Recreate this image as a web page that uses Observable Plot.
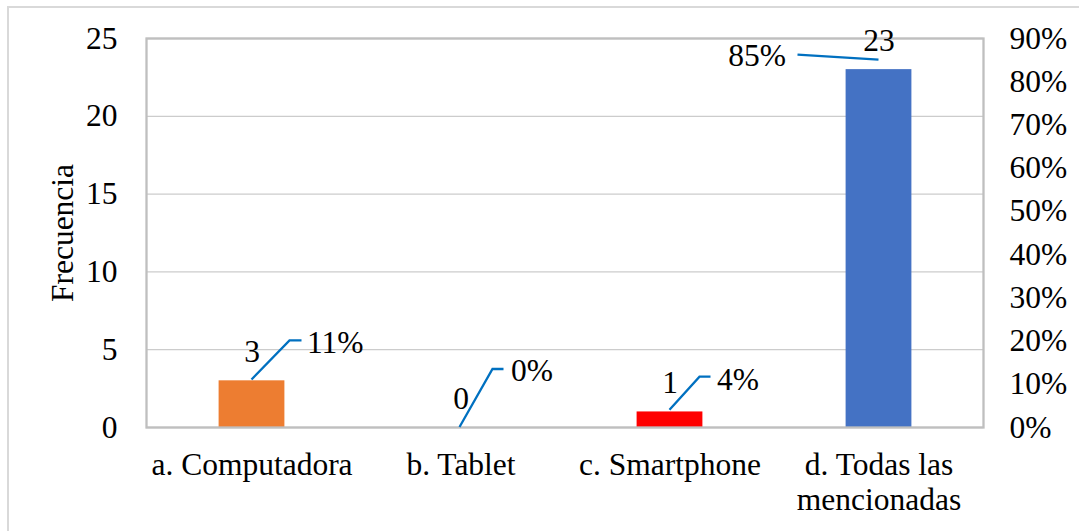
<!DOCTYPE html>
<html><head><meta charset="utf-8">
<script src="https://cdn.jsdelivr.net/npm/d3@7"></script>
<script src="https://cdn.jsdelivr.net/npm/@observablehq/plot@0.6"></script>
<style>
html,body{margin:0;padding:0;background:#fff;overflow:hidden}
#wrap{position:relative;width:1079px;height:531px}
#border{position:absolute;left:7px;top:6px;width:2000px;height:2000px;border-left:2px solid #d9d9d9;border-top:2px solid #d9d9d9;pointer-events:none}
#chart{position:absolute;left:0;top:0}
</style></head><body><div id="wrap"><div id="chart"></div><div id="border"></div></div>
<script>
const categories = ["a. Computadora", "b. Tablet", "c. Smartphone", "d. Todas las\nmencionadas"];
const counts = [3, 0, 1, 23];
const percents = [11, 0, 4, 85];
const barColors = ["#ED7D31", "#A5A5A5", "#FF0000", "#4472C4"];
const countTicks = [0, 5, 10, 15, 20, 25];
const percentTicks = [0, 10, 20, 30, 40, 50, 60, 70, 80, 90];
const countMax = 25;
const percentMax = 90;
const yLabel = "Frecuencia";

// layout (pixel offsets of the moved percentage labels and their leader lines)
const leaderPaths = [
  [[0, 0], [38, -39], [50, -39]],
  [[-1, 0], [32, -58], [43, -58]],
  [[0, 0], [30, -33], [41, -33]],
  [[0, 0], [-81, -5]]
];
const pctTextPos = [[55, -37, "start"], [50, -57, "start"], [47, -30, "start"], [-93, -4, "end"]];

const FONT = "Liberation Serif";

const rows = categories.map((c, i) => ({
  cat: c, count: counts[i], pct: percents[i],
  pctY: percents[i] / percentMax * countMax, color: barColors[i]
}));

function leaders(index, scales) {
  const g = d3.create("svg:g")
    .attr("stroke", "#0070C0").attr("stroke-width", 2.3)
    .attr("fill", "none").attr("stroke-linecap", "butt");
  const x = scales.x, y = scales.y;
  const half = x.bandwidth ? x.bandwidth() / 2 : 0;
  rows.forEach((r, i) => {
    const x0 = x(r.cat) + half, y0 = y(r.pctY);
    g.append("path").attr("d", d3.line()(leaderPaths[i].map(([dx, dy]) => [x0 + dx, y0 + dy])));
  });
  return g.node();
}

const chart = Plot.plot({
  width: 1079,
  height: 531,
  marginLeft: 146,
  marginRight: 96,
  marginTop: 38,
  marginBottom: 104,
  style: {fontFamily: FONT, fontSize: "31.5px", color: "#000", background: "transparent"},
  x: {type: "band", domain: categories, padding: 0},
  y: {domain: [0, countMax]},
  color: {type: "identity"},
  marks: [
    Plot.gridY(countTicks, {stroke: "#cccccc", strokeOpacity: 1, strokeWidth: 1.3}),
    Plot.barY(rows, {x: "cat", y: "count", fill: "color", insetLeft: 71.6, insetRight: 71.6}),
    Plot.frame({stroke: "#bfbfbf", strokeWidth: 2.3}),
    Plot.axisY(countTicks, {anchor: "left", tickSize: 0, tickPadding: 29, label: null, fill: "#000", fontFamily: FONT}),
    Plot.axisY(percentTicks.map(p => p / percentMax * countMax), {
      anchor: "right", tickSize: 0, tickPadding: 26, label: null, fill: "#000", fontFamily: FONT,
      tickFormat: d => Math.round(d * percentMax / countMax) + "%"
    }),
    Plot.axisX({tickSize: 0, tickPadding: 23, lineHeight: 1.11, label: null, fill: "#000", fontFamily: FONT}),
    Plot.text([yLabel], {frameAnchor: "left", dx: -84, rotate: -90, textAnchor: "middle", lineAnchor: "middle", text: d => d, fill: "#000", fontFamily: FONT}),
    Plot.text(rows, {x: "cat", y: "count", text: d => String(d.count), dy: -29, fill: "#000", fontFamily: FONT}),
    leaders,
    ...rows.map((r, i) => Plot.text([r], {
      x: "cat", y: "pctY", text: d => d.pct + "%", fontFamily: FONT,
      dx: pctTextPos[i][0], dy: pctTextPos[i][1], textAnchor: pctTextPos[i][2], fill: "#000"
    }))
  ]
});
document.getElementById("chart").appendChild(chart);
</script>
</body></html>
